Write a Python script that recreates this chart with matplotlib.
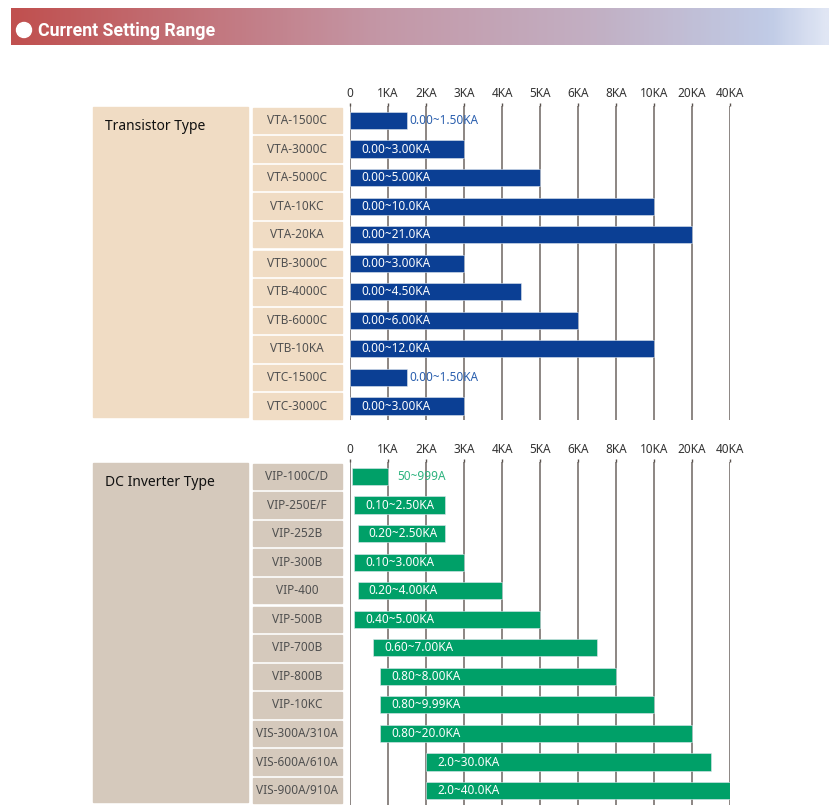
import numpy as np
import matplotlib.pyplot as plt
from matplotlib.patches import Rectangle, Circle
from matplotlib.colors import LinearSegmentedColormap
import matplotlib.transforms as mtransforms

# axis ticks (non-linear scale, equally spaced on the chart)
tick_vals = [0, 1, 2, 3, 4, 5, 6, 8, 10, 20, 40]
tick_labels = ["0", "1KA", "2KA", "3KA", "4KA", "5KA", "6KA", "8KA", "10KA", "20KA", "40KA"]

# transistor type
tr_models = ["VTA-1500C", "VTA-3000C", "VTA-5000C", "VTA-10KC", "VTA-20KA",
             "VTB-3000C", "VTB-4000C", "VTB-6000C", "VTB-10KA", "VTC-1500C", "VTC-3000C"]
tr_lo = [0, 0, 0, 0, 0, 0, 0, 0, 0, 0, 0]
tr_hi = [1.5, 3.0, 5.0, 10.0, 20.0, 3.0, 4.5, 6.0, 10.0, 1.5, 3.0]
tr_text = ["0.00~1.50KA", "0.00~3.00KA", "0.00~5.00KA", "0.00~10.0KA", "0.00~21.0KA",
           "0.00~3.00KA", "0.00~4.50KA", "0.00~6.00KA", "0.00~12.0KA", "0.00~1.50KA", "0.00~3.00KA"]

# dc inverter type
dc_models = ["VIP-100C/D", "VIP-250E/F", "VIP-252B", "VIP-300B", "VIP-400", "VIP-500B",
             "VIP-700B", "VIP-800B", "VIP-10KC", "VIS-300A/310A", "VIS-600A/610A", "VIS-900A/910A"]
dc_lo = [0.05, 0.1, 0.2, 0.1, 0.2, 0.1, 0.6, 0.8, 0.8, 0.8, 2.0, 2.0]
dc_hi = [0.999, 2.5, 2.5, 3.0, 4.0, 5.0, 7.0, 8.0, 9.99, 20.0, 30.0, 40.0]
dc_text = ["50~999A", "0.10~2.50KA", "0.20~2.50KA", "0.10~3.00KA", "0.20~4.00KA", "0.40~5.00KA",
           "0.60~7.00KA", "0.80~8.00KA", "0.80~9.99KA", "0.80~20.0KA", "2.0~30.0KA", "2.0~40.0KA"]

W, H = 830, 810
fig = plt.figure(figsize=(W / 100, H / 100), dpi=100)
plt.rcParams['font.family'] = ['Noto Sans', 'DejaVu Sans']

bg = fig.add_axes([0, 0, 1, 1])
bg.set_xlim(0, W)
bg.set_ylim(H, 0)
bg.axis('off')

# header band
cmap = LinearSegmentedColormap.from_list('hdr', [(0, '#c0504f'), (0.45, '#c497a6'),
                                                 (0.72, '#c2b0c4'), (0.93, '#c0cbe6'),
                                                 (1, '#e0e6f4')])
bg.imshow(np.linspace(0, 1, 300).reshape(1, -1), cmap=cmap, aspect='auto',
          extent=[11, 828, 45.5, 9], zorder=1)
bg.add_patch(Circle((24, 30), 7.5, color='white', zorder=2))
bg.text(38, 30.5, "Current Setting Range", color='white', fontsize=12.8, fontweight='bold',
        family=['Roboto', 'DejaVu Sans'], va='center', ha='left', zorder=3)


def to_idx(v):
    return np.interp(v, tick_vals, np.arange(len(tick_vals)))


def panel(top, n, models, lo, hi, texts, box_color, box_y, title, bar_color, out_color, out_pad):
    step = 28.55
    y0 = top - step / 2
    y1 = top + step * (n - 0.5)
    ax = fig.add_axes([350 / W, 1 - y1 / H, 380 / W, (y1 - y0) / H])
    ax.set_xlim(0, 10)
    ax.set_ylim(n - 0.5, -0.5)
    for s in ax.spines.values():
        s.set_visible(False)
    ax.patch.set_alpha(0)
    ax.set_xticks(range(len(tick_vals)))
    ax.set_xticklabels(tick_labels)
    ax.xaxis.tick_top()
    ax.tick_params(axis='x', length=2.5, width=1, color='#5a524e', pad=1.8,
                   labelsize=8.5, labelcolor='#333333')
    ax.set_yticks([])
    ax.grid(axis='x', color='#6e6662', lw=1.1)
    ax.set_axisbelow(True)

    rows = np.arange(n)
    left = to_idx(lo)
    right = to_idx(hi)
    ax.barh(rows, right - left, left=left, height=0.6, color=bar_color,
            edgecolor='#dfe6ee', lw=0.4, zorder=3)
    for i in rows:
        if right[i] - left[i] < 1.8:
            ax.annotate(texts[i], (right[i], i), xytext=(out_pad, 0), textcoords='offset points',
                        va='center', ha='left', fontsize=8.5, color=out_color, zorder=4)
        else:
            ax.annotate(texts[i], (left[i], i), xytext=(8, 0), textcoords='offset points',
                        va='center', ha='left', fontsize=8.5, color='white', zorder=4)

    # model name boxes beside each row
    tr = mtransforms.blended_transform_factory(bg.transData, ax.transData)
    for i in rows:
        bg.add_patch(Rectangle((253, i - 0.445), 89, 0.89, transform=tr, color=box_color,
                               zorder=1, clip_on=False))
        bg.text(297, i, models[i], transform=tr, ha='center', va='center', fontsize=8.5,
                color='#505050', zorder=2)

    bg.add_patch(Rectangle((93, box_y[0]), 155, box_y[1] - box_y[0], color=box_color, zorder=1))
    bg.text(105, box_y[0] + 19.5, title, ha='left', va='center', fontsize=10, color='#111111', zorder=2)
    return ax


panel(120.5, len(tr_models), tr_models, tr_lo, tr_hi, tr_text, '#f0dcc4', (107, 417),
      "Transistor Type", '#0b3f94', '#2a5fae', 2)
panel(476.5, len(dc_models), dc_models, dc_lo, dc_hi, dc_text, '#d5c9bc', (463, 802),
      "DC Inverter Type", '#00a068', '#2db37f', 7)

plt.savefig("out.png", dpi=100)
